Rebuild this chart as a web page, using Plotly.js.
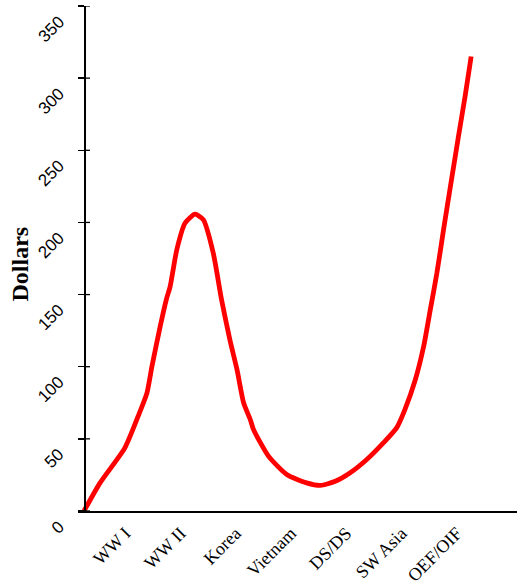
<!DOCTYPE html>
<html>
<head>
<meta charset="utf-8">
<script src="https://cdn.plot.ly/plotly-3.0.1.min.js"></script>
<style>html,body{margin:0;padding:0;background:#fff;}#chart{width:518px;height:581px;}</style>
</head>
<body>
<div id="chart"></div>
<script>
// Position along the conflict timeline (1 = WW I, 2 = WW II, ...)
var period = [0.18,0.47,0.92,1.16,1.32,1.41,1.56,1.67,1.74,1.86,
              2.01,2.19,2.34,2.52,2.67,2.82,2.95,3.07,3.19,3.25,
              3.52,3.85,4.21,4.46,4.73,5.0,5.30,5.6,5.84,5.99,
              6.18,6.33,6.45,6.57,6.69,6.84,6.96,7.08,7.19];
var dollars = [0,19.5,43.8,65.7,81.9,100.3,128,146.5,155.7,181.1,
               199.6,205.7,201.9,178.8,146.5,118.8,98,74.9,63.4,56.4,
               38,25.3,19.5,17.7,20.6,26.5,35.7,47.2,57.6,70.3,
               91.1,114.1,139.5,165,195,231,259.6,287.3,315];
var categoryPos = [1,2,3,4,5,6,7];
var categoryLabels = ["WW I","WW II","Korea","Vietnam","DS/DS","SW Asia","OEF/OIF"];
var yTicks = [0,50,100,150,200,250,300,350];
var yTitle = "Dollars";

var plotW = 439;
var yPos = 6 / plotW;
var trace = {
  x: period, y: dollars, type: 'scatter', mode: 'lines',
  line: {color: '#ff0000', width: 4.8, shape: 'spline', smoothing: 0.6},
  hoverinfo: 'skip', showlegend: false, cliponaxis: false
};

var annotations = yTicks.map(function (v) {
  return {
    text: String(v), x: (69 - 78) / plotW, xref: 'paper', y: v, yref: 'y',
    xanchor: 'right', yanchor: 'top', yshift: -5, textangle: -45,
    showarrow: false, borderpad: 0,
    font: {family: 'Liberation Sans, Arial, sans-serif', size: 17, color: '#000'}
  };
});
annotations.push({
  text: '<b>' + yTitle + '</b>', x: (19 - 78) / plotW, xref: 'paper', y: 0.5, yref: 'paper',
  yshift: -6, xanchor: 'center', yanchor: 'middle', textangle: -90, showarrow: false,
  font: {family: 'Liberation Serif, Times New Roman, serif', size: 24, color: '#000'}
});

var shapes = yTicks.map(function (v) {
  return {type: 'line', xref: 'paper', yref: 'y', x0: yPos, x1: yPos + 6 / plotW, y0: v, y1: v,
          line: {color: '#000', width: 1.3}};
});

var layout = {
  width: 518, height: 581,
  margin: {l: 78, r: 1, t: 6, b: 70},
  paper_bgcolor: '#fff', plot_bgcolor: '#fff',
  showlegend: false,
  xaxis: {
    range: [0.071, 8.02], showgrid: false, zeroline: false,
    showline: true, linecolor: '#000', linewidth: 1.6,
    tickmode: 'array', tickvals: categoryPos, ticktext: categoryLabels,
    ticks: '', tickangle: -45,
    tickfont: {family: 'Liberation Serif, Times New Roman, serif', size: 18, color: '#000'},
    ticklabelstandoff: 3, ticklabelshift: -4
  },
  yaxis: {
    range: [0, 350], showgrid: false, zeroline: false,
    anchor: 'free', position: yPos,
    showline: true, linecolor: '#000', linewidth: 1.6,
    tickmode: 'array', tickvals: yTicks, showticklabels: false,
    ticks: 'outside', ticklen: 6, tickwidth: 1.3, tickcolor: '#000'
  },
  annotations: annotations,
  shapes: shapes
};
Plotly.newPlot('chart', [trace], layout, {staticPlot: true, displayModeBar: false});
</script>
</body>
</html>
